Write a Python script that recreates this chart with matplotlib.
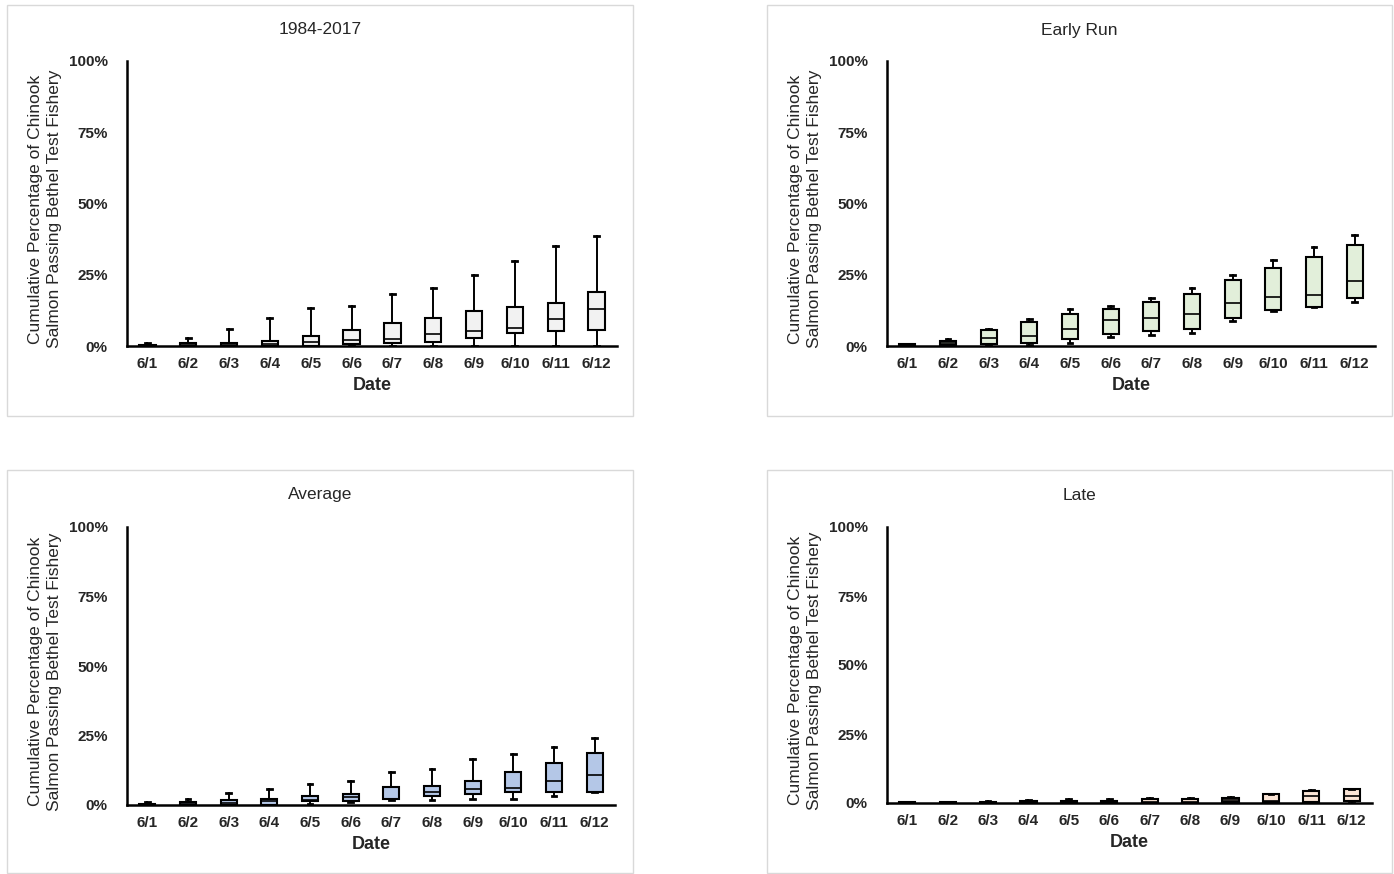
"""Four box-plot panels: cumulative % of Chinook salmon past the Bethel test fishery, 6/1-6/12."""

import matplotlib

matplotlib.use("Agg")
import matplotlib.pyplot as plt
from matplotlib.patches import Rectangle

plt.rcParams["font.family"] = ["Liberation Sans", "DejaVu Sans"]

DATES = ["6/1", "6/2", "6/3", "6/4", "6/5", "6/6",
         "6/7", "6/8", "6/9", "6/10", "6/11", "6/12"]
YTICKS = [0, 25, 50, 75, 100]
YLABEL = "Cumulative Percentage of Chinook\nSalmon Passing Bethel Test Fishery"

# 1984-2017 (all years)
ALL_LO = [0, 0, 0, 0, 0, 0.2, 0, 0, 0, 0, 0, 0]
ALL_Q1 = [0, 0, 0, 0, 0, 0.6, 0.9, 1.5, 2.9, 4.7, 5.4, 5.6]
ALL_MED = [0.1, 0.3, 0.3, 0.7, 1.5, 2.2, 2.3, 4.2, 5.1, 6.4, 9.4, 12.9]
ALL_Q3 = [0.2, 0.9, 1.0, 1.9, 3.5, 5.6, 8.2, 9.9, 12.3, 13.7, 15.1, 19.1]
ALL_HI = [0.9, 2.9, 6.0, 9.7, 13.2, 14.2, 18.2, 20.5, 25.0, 29.9, 35.0, 38.7]

# early run years
EARLY_LO = [0, 0.2, 0.3, 0.3, 1.2, 3.0, 3.7, 4.6, 8.8, 12.4, 13.6, 15.5]
EARLY_Q1 = [0.1, 0.35, 0.6, 0.9, 2.5, 4.1, 5.1, 6.1, 9.7, 12.6, 13.8, 16.7]
EARLY_MED = [0.3, 1.2, 2.9, 3.5, 5.8, 9.1, 9.9, 11.3, 15.1, 17.2, 17.8, 22.7]
EARLY_Q3 = [0.6, 1.9, 5.6, 8.3, 11.3, 13.1, 15.4, 18.2, 23.0, 27.5, 31.2, 35.4]
EARLY_HI = [0.8, 2.5, 6.0, 9.6, 13.1, 14.2, 16.8, 20.5, 24.9, 30.3, 34.8, 38.8]

# average run years
AVG_LO = [0, 0, 0, 0, 0.5, 1.0, 1.9, 1.9, 2.2, 2.3, 3.3, 4.6]
AVG_Q1 = [0, 0, 0, 0, 1.3, 1.6, 2.1, 3.3, 3.8, 4.6, 4.7, 4.8]
AVG_MED = [0.2, 0.4, 0.7, 1.4, 1.9, 2.8, 2.3, 4.6, 5.9, 6.2, 8.8, 10.7]
AVG_Q3 = [0.5, 1.0, 1.9, 2.3, 3.2, 4.1, 6.5, 6.9, 8.8, 12.0, 15.2, 18.7]
AVG_HI = [1.0, 2.2, 4.4, 5.9, 7.5, 8.7, 11.7, 13.0, 16.6, 18.4, 20.9, 24.0]

# late run years
LATE_LO = [0, 0, 0, 0, 0, 0, 0, 0, 0, 0, 0, 0]
LATE_Q1 = [0, 0, 0, 0, 0, 0, 0, 0, 0.3, 0.2, 0.3, 0.6]
LATE_MED = [0.1, 0.1, 0.2, 0.2, 0.3, 0.3, 0.3, 0.5, 1.2, 0.7, 2.6, 2.6]
LATE_Q3 = [0.2, 0.2, 0.5, 0.6, 0.9, 0.9, 1.3, 1.6, 1.8, 3.1, 4.4, 5.2]
LATE_HI = [0.3, 0.2, 0.6, 1.2, 1.3, 1.3, 1.9, 1.9, 2.3, 3.3, 4.6, 5.2]

W, H = 1394, 874

# (title, colour, stats, frame px [x0, y0, x1, y1], axes px [left, top, right, bottom])
PANELS = [
    ("1984-2017", "#f2f2f2", (ALL_LO, ALL_Q1, ALL_MED, ALL_Q3, ALL_HI),
     (7, 5, 633, 416), (127, 61, 617, 346)),
    ("Early Run", "#e2efda", (EARLY_LO, EARLY_Q1, EARLY_MED, EARLY_Q3, EARLY_HI),
     (767, 5, 1392, 416), (887, 61, 1375, 346)),
    ("Average", "#b4c7e7", (AVG_LO, AVG_Q1, AVG_MED, AVG_Q3, AVG_HI),
     (7, 470, 633, 873), (127, 527, 615, 805)),
    ("Late", "#fbe5d6", (LATE_LO, LATE_Q1, LATE_MED, LATE_Q3, LATE_HI),
     (767, 470, 1392, 873), (887, 527, 1372, 803)),
]


def _stats(lo, q1, med, q3, hi):
    return [dict(whislo=a, q1=b, med=c, q3=d, whishi=e, fliers=[])
            for a, b, c, d, e in zip(lo, q1, med, q3, hi)]


def main():
    fig = plt.figure(figsize=(W / 100, H / 100), dpi=100, facecolor="white")

    for title, col, st, frame, box in PANELS:
        x0, y0, x1, y1 = frame
        fig.patches.append(Rectangle((x0 / W, 1 - y1 / H), (x1 - x0) / W,
                                     (y1 - y0) / H, transform=fig.transFigure,
                                     fill=False, edgecolor="#d9d9d9", lw=1.0))
        fig.text((x0 + x1) / 2 / W, 1 - (y0 + 25) / H, title, fontsize=12.5,
                 ha="center", va="center", color="#262626")

        l, t, r, b = box
        ax = fig.add_axes([l / W, 1 - b / H, (r - l) / W, (b - t) / H])
        ax.bxp(_stats(*st), positions=range(1, len(DATES) + 1), widths=0.4,
               capwidths=0.12, patch_artist=True, showfliers=False,
               boxprops=dict(facecolor=col, edgecolor="black", lw=1.5),
               medianprops=dict(color="black", lw=1.2),
               whiskerprops=dict(color="black", lw=1.4),
               capprops=dict(color="black", lw=2.0))

        ax.set_xlim(0.5, len(DATES) + 0.5)
        ax.set_ylim(0, 100)
        ax.set_xticks(range(1, len(DATES) + 1))
        ax.set_xticklabels(DATES, fontsize=11, fontweight="bold")
        ax.set_yticks(YTICKS)
        ax.set_yticklabels([f"{v}%" for v in YTICKS], fontsize=11,
                           fontweight="bold")
        ax.tick_params(length=0, pad=8, colors="#262626")
        ax.tick_params(axis="y", pad=14)
        for side in ("top", "right"):
            ax.spines[side].set_visible(False)
        for side in ("left", "bottom"):
            ax.spines[side].set_linewidth(1.8)
            ax.spines[side].set_color("black")
        ax.set_xlabel("Date", fontsize=13, fontweight="bold", labelpad=4,
                      color="#262626")
        ax.set_ylabel(YLABEL, fontsize=12.5, labelpad=5, color="#262626",
                      linespacing=1.3)
        ax.yaxis.label.set_y(0.48)

    fig.savefig("out.png", dpi=100, facecolor="white")
    plt.close(fig)


if __name__ == "__main__":
    main()
